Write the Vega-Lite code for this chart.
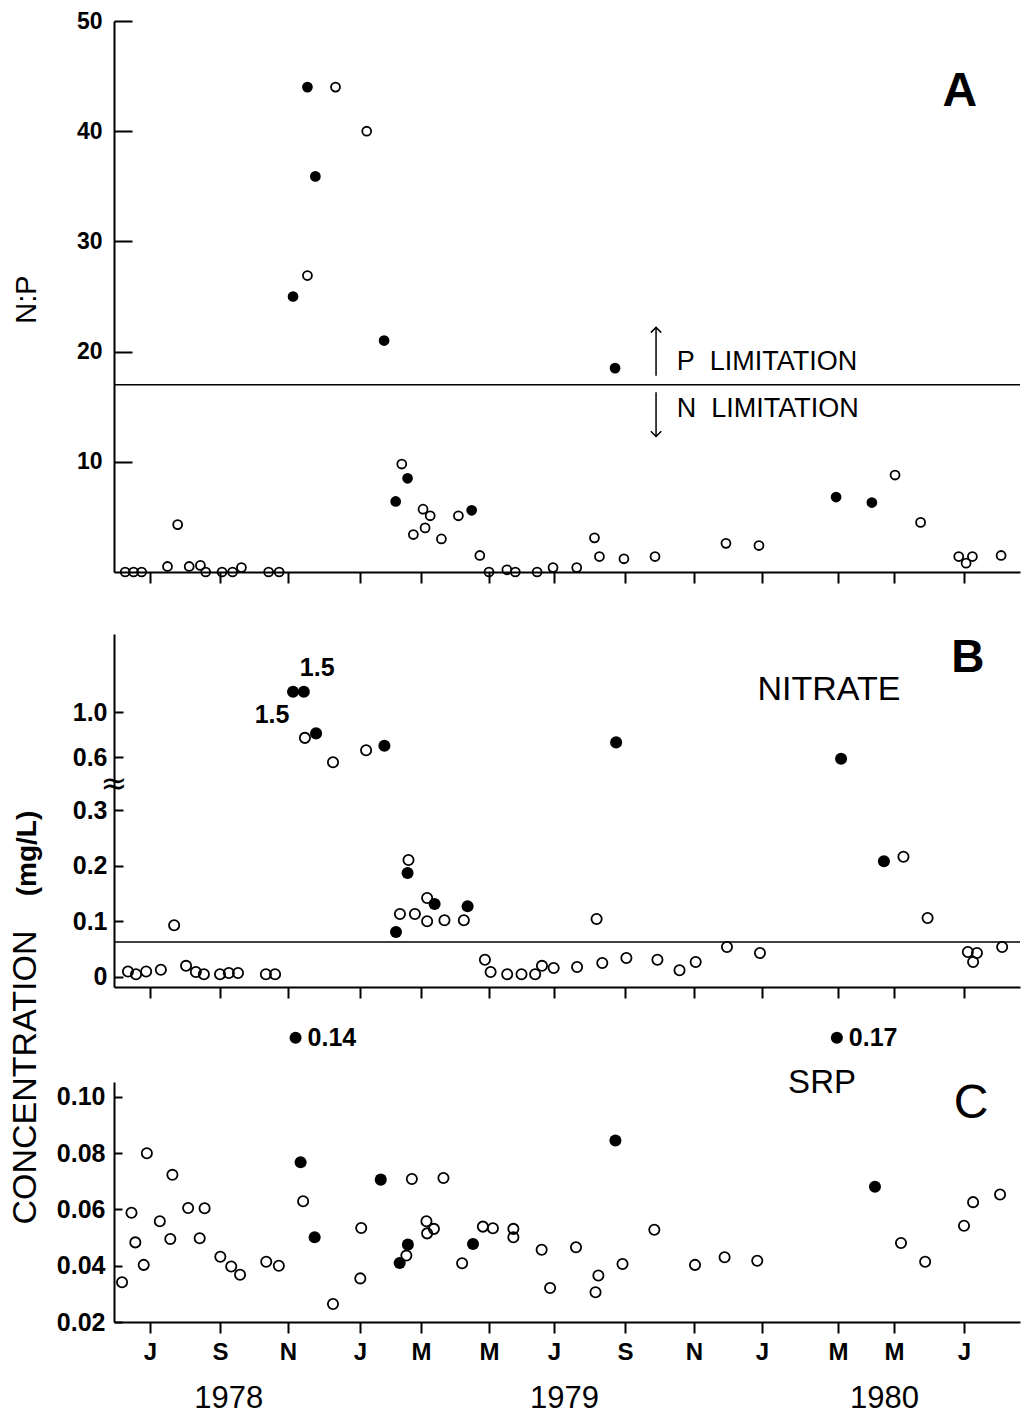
{
  "$schema": "https://vega.github.io/schema/vega-lite/v6.json",
  "background": "white",
  "padding": {"left": 7, "top": 10, "right": 5, "bottom": 2},
  "bounds": "flush",
  "spacing": 62,
  "config": {
    "view": {"stroke": null},
    "axis": {"domainColor": "black", "domainWidth": 2, "tickColor": "black", "tickWidth": 2, "labelColor": "black", "labelFont": "Liberation Sans", "labelFontWeight": "bold", "titleColor": "black", "titleFont": "Liberation Sans", "grid": false, "labelFlush": false, "labelOverlap": false},
    "text": {"font": "Liberation Sans", "color": "black"}
  },
  "datasets": {
    "np": [
      {"m": 5.29, "v": 0, "s": "o"}, {"m": 5.53, "v": 0, "s": "o"}, {"m": 5.76, "v": 0, "s": "o"}, {"m": 6.5, "v": 0.5, "s": "o"},
      {"m": 6.79, "v": 4.3, "s": "o"}, {"m": 7.12, "v": 0.5, "s": "o"}, {"m": 7.44, "v": 0.6, "s": "o"}, {"m": 7.59, "v": 0, "s": "o"},
      {"m": 8.06, "v": 0, "s": "o"}, {"m": 8.37, "v": 0, "s": "o"}, {"m": 8.63, "v": 0.4, "s": "o"}, {"m": 9.43, "v": 0, "s": "o"},
      {"m": 9.74, "v": 0, "s": "o"}, {"m": 10.54, "v": 26.9, "s": "o"}, {"m": 11.32, "v": 44, "s": "o"}, {"m": 12.22, "v": 40, "s": "o"},
      {"m": 13.37, "v": 9.8, "s": "o"}, {"m": 13.75, "v": 3.4, "s": "o"}, {"m": 14.06, "v": 5.7, "s": "o"}, {"m": 14.12, "v": 4.0, "s": "o"},
      {"m": 14.27, "v": 5.1, "s": "o"}, {"m": 14.6, "v": 3.0, "s": "o"}, {"m": 15.1, "v": 5.1, "s": "o"}, {"m": 15.73, "v": 1.5, "s": "o"},
      {"m": 16.0, "v": 0, "s": "o"}, {"m": 16.55, "v": 0.2, "s": "o"}, {"m": 16.81, "v": 0, "s": "o"}, {"m": 17.48, "v": 0, "s": "o"},
      {"m": 17.97, "v": 0.4, "s": "o"}, {"m": 18.64, "v": 0.4, "s": "o"}, {"m": 19.14, "v": 3.1, "s": "o"}, {"m": 19.28, "v": 1.4, "s": "o"},
      {"m": 19.97, "v": 1.2, "s": "o"}, {"m": 20.87, "v": 1.4, "s": "o"}, {"m": 22.94, "v": 2.6, "s": "o"}, {"m": 23.91, "v": 2.4, "s": "o"},
      {"m": 28.03, "v": 8.8, "s": "o"}, {"m": 28.76, "v": 4.5, "s": "o"}, {"m": 29.85, "v": 1.4, "s": "o"}, {"m": 30.06, "v": 0.8, "s": "o"},
      {"m": 30.24, "v": 1.4, "s": "o"}, {"m": 31.06, "v": 1.5, "s": "o"},
      {"m": 10.14, "v": 25, "s": "f"}, {"m": 10.54, "v": 44, "s": "f"}, {"m": 10.76, "v": 35.9, "s": "f"}, {"m": 12.79, "v": 21, "s": "f"},
      {"m": 13.17, "v": 6.4, "s": "f"}, {"m": 13.56, "v": 8.5, "s": "f"}, {"m": 15.49, "v": 5.6, "s": "f"}, {"m": 19.72, "v": 18.5, "s": "f"},
      {"m": 25.95, "v": 6.8, "s": "f"}, {"m": 27.21, "v": 6.3, "s": "f"}
    ],
    "no3": [
      {"m": 5.37, "v": 0.01, "s": "o"}, {"m": 5.6, "v": 0.005, "s": "o"}, {"m": 5.89, "v": 0.01, "s": "o"}, {"m": 6.31, "v": 0.013, "s": "o"},
      {"m": 6.69, "v": 0.093, "s": "o"}, {"m": 7.03, "v": 0.02, "s": "o"}, {"m": 7.31, "v": 0.009, "s": "o"}, {"m": 7.54, "v": 0.005, "s": "o"},
      {"m": 8.0, "v": 0.005, "s": "o"}, {"m": 8.26, "v": 0.007, "s": "o"}, {"m": 8.53, "v": 0.007, "s": "o"}, {"m": 9.35, "v": 0.005, "s": "o"},
      {"m": 9.62, "v": 0.005, "s": "o"}, {"m": 10.47, "v": 0.77, "s": "o"}, {"m": 11.25, "v": 0.57, "s": "o"}, {"m": 12.2, "v": 0.66, "s": "o"},
      {"m": 13.31, "v": 0.113, "s": "o"}, {"m": 13.59, "v": 0.21, "s": "o"}, {"m": 13.8, "v": 0.113, "s": "o"}, {"m": 14.18, "v": 0.142, "s": "o"},
      {"m": 14.18, "v": 0.1, "s": "o"}, {"m": 14.69, "v": 0.102, "s": "o"}, {"m": 15.26, "v": 0.102, "s": "o"}, {"m": 15.88, "v": 0.031, "s": "o"},
      {"m": 16.05, "v": 0.009, "s": "o"}, {"m": 16.56, "v": 0.005, "s": "o"}, {"m": 17.0, "v": 0.005, "s": "o"}, {"m": 17.42, "v": 0.005, "s": "o"},
      {"m": 17.63, "v": 0.02, "s": "o"}, {"m": 17.99, "v": 0.016, "s": "o"}, {"m": 18.65, "v": 0.018, "s": "o"}, {"m": 19.2, "v": 0.104, "s": "o"},
      {"m": 19.36, "v": 0.025, "s": "o"}, {"m": 20.04, "v": 0.034, "s": "o"}, {"m": 20.94, "v": 0.031, "s": "o"}, {"m": 21.58, "v": 0.012, "s": "o"},
      {"m": 22.05, "v": 0.027, "s": "o"}, {"m": 22.97, "v": 0.054, "s": "o"}, {"m": 23.94, "v": 0.043, "s": "o"}, {"m": 28.27, "v": 0.216, "s": "o"},
      {"m": 28.96, "v": 0.106, "s": "o"}, {"m": 30.11, "v": 0.045, "s": "o"}, {"m": 30.26, "v": 0.027, "s": "o"}, {"m": 30.37, "v": 0.043, "s": "o"},
      {"m": 31.09, "v": 0.054, "s": "o"},
      {"m": 10.14, "v": 1.18, "s": "f"}, {"m": 10.44, "v": 1.18, "s": "f"}, {"m": 10.78, "v": 0.81, "s": "f"}, {"m": 12.8, "v": 0.7, "s": "f"},
      {"m": 13.18, "v": 0.081, "s": "f"}, {"m": 13.56, "v": 0.187, "s": "f"}, {"m": 14.4, "v": 0.131, "s": "f"}, {"m": 15.37, "v": 0.127, "s": "f"},
      {"m": 19.75, "v": 0.73, "s": "f"}, {"m": 26.11, "v": 0.59, "s": "f"}, {"m": 27.64, "v": 0.208, "s": "f"}
    ],
    "srp": [
      {"m": 5.2, "v": 0.0341, "s": "o"}, {"m": 5.47, "v": 0.0588, "s": "o"}, {"m": 5.58, "v": 0.0483, "s": "o"}, {"m": 5.82, "v": 0.0403, "s": "o"},
      {"m": 5.91, "v": 0.08, "s": "o"}, {"m": 6.28, "v": 0.0558, "s": "o"}, {"m": 6.58, "v": 0.0495, "s": "o"}, {"m": 6.64, "v": 0.0723, "s": "o"},
      {"m": 7.09, "v": 0.0605, "s": "o"}, {"m": 7.42, "v": 0.0498, "s": "o"}, {"m": 7.56, "v": 0.0604, "s": "o"}, {"m": 8.01, "v": 0.0432, "s": "o"},
      {"m": 8.33, "v": 0.0397, "s": "o"}, {"m": 8.59, "v": 0.0368, "s": "o"}, {"m": 9.36, "v": 0.0414, "s": "o"}, {"m": 9.73, "v": 0.04, "s": "o"},
      {"m": 10.42, "v": 0.0629, "s": "o"}, {"m": 11.25, "v": 0.0264, "s": "o"}, {"m": 12.01, "v": 0.0355, "s": "o"}, {"m": 12.04, "v": 0.0534, "s": "o"},
      {"m": 13.52, "v": 0.0436, "s": "o"}, {"m": 13.7, "v": 0.0708, "s": "o"}, {"m": 14.16, "v": 0.0558, "s": "o"}, {"m": 14.18, "v": 0.0515, "s": "o"},
      {"m": 14.38, "v": 0.0531, "s": "o"}, {"m": 14.66, "v": 0.0712, "s": "o"}, {"m": 15.21, "v": 0.0409, "s": "o"}, {"m": 15.82, "v": 0.0539, "s": "o"},
      {"m": 16.12, "v": 0.0533, "s": "o"}, {"m": 16.75, "v": 0.0531, "s": "o"}, {"m": 16.75, "v": 0.0501, "s": "o"}, {"m": 17.62, "v": 0.0457, "s": "o"},
      {"m": 17.88, "v": 0.0321, "s": "o"}, {"m": 18.62, "v": 0.0466, "s": "o"}, {"m": 19.17, "v": 0.0306, "s": "o"}, {"m": 19.25, "v": 0.0365, "s": "o"},
      {"m": 19.93, "v": 0.0406, "s": "o"}, {"m": 20.85, "v": 0.0528, "s": "o"}, {"m": 22.03, "v": 0.0403, "s": "o"}, {"m": 22.9, "v": 0.043, "s": "o"},
      {"m": 23.86, "v": 0.0418, "s": "o"}, {"m": 28.2, "v": 0.0481, "s": "o"}, {"m": 28.89, "v": 0.0414, "s": "o"}, {"m": 30.0, "v": 0.0542, "s": "o"},
      {"m": 30.26, "v": 0.0626, "s": "o"}, {"m": 31.03, "v": 0.0653, "s": "o"},
      {"m": 10.21, "v": 0.121, "s": "f", "lab": "0.14"}, {"m": 10.35, "v": 0.0768, "s": "f"}, {"m": 10.74, "v": 0.0501, "s": "f"},
      {"m": 12.68, "v": 0.0706, "s": "f"}, {"m": 13.3, "v": 0.041, "s": "f"}, {"m": 13.57, "v": 0.0475, "s": "f"}, {"m": 15.53, "v": 0.0477, "s": "f"},
      {"m": 19.73, "v": 0.0845, "s": "f"}, {"m": 25.97, "v": 0.121, "s": "f", "lab": "0.17"}, {"m": 27.32, "v": 0.0681, "s": "f"}
    ]
  },
  "vconcat": [
    {
      "width": 906,
      "height": 551,
      "layer": [
        {
          "data": {"values": [{"v": 17}]},
          "mark": {"type": "rule", "color": "black", "strokeWidth": 1.5},
          "encoding": {
            "y": {"field": "v", "type": "quantitative", "scale": {"domain": [0, 50], "nice": false, "zero": false}, "axis": {"values": [10, 20, 30, 40, 50], "tickSize": -18, "labelPadding": 30, "labelFontSize": 23, "title": "N:P", "titleFontSize": 29, "titleFontWeight": "normal", "titleX": -79, "titleY": 278, "titleAngle": -90, "titleBaseline": "alphabetic", "titleAlign": "center"}}
          }
        },
        {
          "data": {"name": "np"},
          "transform": [{"filter": "datum.s == 'o'"}],
          "mark": {"type": "point", "shape": "circle", "filled": false, "stroke": "black", "strokeWidth": 1.8, "size": 80, "opacity": 1},
          "encoding": {
            "x": {"field": "m", "type": "quantitative", "scale": {"domain": [4.97, 6, 8, 10, 12, 14, 16, 18, 20, 22, 24, 26, 28, 30, 31.6], "range": [0, 36, 106, 174, 246, 307, 375, 440, 511, 580, 648, 724, 780, 850, 906], "nice": false, "zero": false}, "axis": {"values": [6, 8, 10, 12, 14, 16, 18, 20, 22, 24, 26, 28, 30], "labels": false, "tickSize": 11, "title": null}},
            "y": {"field": "v", "type": "quantitative", "scale": {"domain": [0, 50], "nice": false, "zero": false}, "axis": {"values": [10, 20, 30, 40, 50], "tickSize": -18, "labelPadding": 30, "labelFontSize": 23, "title": "N:P", "titleFontSize": 29, "titleFontWeight": "normal", "titleX": -79, "titleY": 278, "titleAngle": -90, "titleBaseline": "alphabetic", "titleAlign": "center"}}
          }
        },
        {
          "data": {"name": "np"},
          "transform": [{"filter": "datum.s == 'f'"}],
          "mark": {"type": "circle", "color": "black", "size": 115, "opacity": 1},
          "encoding": {
            "x": {"field": "m", "type": "quantitative", "scale": {"domain": [4.97, 6, 8, 10, 12, 14, 16, 18, 20, 22, 24, 26, 28, 30, 31.6], "range": [0, 36, 106, 174, 246, 307, 375, 440, 511, 580, 648, 724, 780, 850, 906], "nice": false, "zero": false}, "axis": {"values": [6, 8, 10, 12, 14, 16, 18, 20, 22, 24, 26, 28, 30], "labels": false, "tickSize": 11, "title": null}},
            "y": {"field": "v", "type": "quantitative", "scale": {"domain": [0, 50], "nice": false, "zero": false}, "axis": {"values": [10, 20, 30, 40, 50], "tickSize": -18, "labelPadding": 30, "labelFontSize": 23, "title": "N:P", "titleFontSize": 29, "titleFontWeight": "normal", "titleX": -79, "titleY": 278, "titleAngle": -90, "titleBaseline": "alphabetic", "titleAlign": "center"}}
          }
        },
        {
          "data": {"values": [{"m": 20.9, "v": 17.8, "v2": 22.2}, {"m": 20.9, "v": 16.3, "v2": 12.3}]},
          "mark": {"type": "rule", "color": "black", "strokeWidth": 1.5},
          "encoding": {
            "x": {"field": "m", "type": "quantitative", "scale": {"domain": [4.97, 6, 8, 10, 12, 14, 16, 18, 20, 22, 24, 26, 28, 30, 31.6], "range": [0, 36, 106, 174, 246, 307, 375, 440, 511, 580, 648, 724, 780, 850, 906], "nice": false, "zero": false}, "axis": {"values": [6, 8, 10, 12, 14, 16, 18, 20, 22, 24, 26, 28, 30], "labels": false, "tickSize": 11, "title": null}},
            "y": {"field": "v", "type": "quantitative", "scale": {"domain": [0, 50], "nice": false, "zero": false}, "axis": {"values": [10, 20, 30, 40, 50], "tickSize": -18, "labelPadding": 30, "labelFontSize": 23, "title": "N:P", "titleFontSize": 29, "titleFontWeight": "normal", "titleX": -79, "titleY": 278, "titleAngle": -90, "titleBaseline": "alphabetic", "titleAlign": "center"}},
            "y2": {"field": "v2"}
          }
        },
        {
          "data": {"values": [{"m": 20.9, "v": 22.2}]},
          "mark": {"type": "point", "shape": "M-1,1L0,0L1,1", "filled": false, "stroke": "black", "strokeWidth": 1.5, "size": 110, "opacity": 1},
          "encoding": {
            "x": {"field": "m", "type": "quantitative", "scale": {"domain": [4.97, 6, 8, 10, 12, 14, 16, 18, 20, 22, 24, 26, 28, 30, 31.6], "range": [0, 36, 106, 174, 246, 307, 375, 440, 511, 580, 648, 724, 780, 850, 906], "nice": false, "zero": false}, "axis": {"values": [6, 8, 10, 12, 14, 16, 18, 20, 22, 24, 26, 28, 30], "labels": false, "tickSize": 11, "title": null}},
            "y": {"field": "v", "type": "quantitative", "scale": {"domain": [0, 50], "nice": false, "zero": false}, "axis": {"values": [10, 20, 30, 40, 50], "tickSize": -18, "labelPadding": 30, "labelFontSize": 23, "title": "N:P", "titleFontSize": 29, "titleFontWeight": "normal", "titleX": -79, "titleY": 278, "titleAngle": -90, "titleBaseline": "alphabetic", "titleAlign": "center"}}
          }
        },
        {
          "data": {"values": [{"m": 20.9, "v": 12.3}]},
          "mark": {"type": "point", "shape": "M-1,-1L0,0L1,-1", "filled": false, "stroke": "black", "strokeWidth": 1.5, "size": 110, "opacity": 1},
          "encoding": {
            "x": {"field": "m", "type": "quantitative", "scale": {"domain": [4.97, 6, 8, 10, 12, 14, 16, 18, 20, 22, 24, 26, 28, 30, 31.6], "range": [0, 36, 106, 174, 246, 307, 375, 440, 511, 580, 648, 724, 780, 850, 906], "nice": false, "zero": false}, "axis": {"values": [6, 8, 10, 12, 14, 16, 18, 20, 22, 24, 26, 28, 30], "labels": false, "tickSize": 11, "title": null}},
            "y": {"field": "v", "type": "quantitative", "scale": {"domain": [0, 50], "nice": false, "zero": false}, "axis": {"values": [10, 20, 30, 40, 50], "tickSize": -18, "labelPadding": 30, "labelFontSize": 23, "title": "N:P", "titleFontSize": 29, "titleFontWeight": "normal", "titleX": -79, "titleY": 278, "titleAngle": -90, "titleBaseline": "alphabetic", "titleAlign": "center"}}
          }
        },
        {
          "data": {"values": [{"m": 21.5, "v": 19.1, "t": "P\u00a0\u00a0LIMITATION"}, {"m": 21.5, "v": 14.8, "t": "N\u00a0\u00a0LIMITATION"}]},
          "mark": {"type": "text", "align": "left", "baseline": "middle", "fontSize": 27, "font": "Liberation Sans", "color": "black"},
          "encoding": {
            "x": {"field": "m", "type": "quantitative", "scale": {"domain": [4.97, 6, 8, 10, 12, 14, 16, 18, 20, 22, 24, 26, 28, 30, 31.6], "range": [0, 36, 106, 174, 246, 307, 375, 440, 511, 580, 648, 724, 780, 850, 906], "nice": false, "zero": false}, "axis": {"values": [6, 8, 10, 12, 14, 16, 18, 20, 22, 24, 26, 28, 30], "labels": false, "tickSize": 11, "title": null}},
            "y": {"field": "v", "type": "quantitative", "scale": {"domain": [0, 50], "nice": false, "zero": false}, "axis": {"values": [10, 20, 30, 40, 50], "tickSize": -18, "labelPadding": 30, "labelFontSize": 23, "title": "N:P", "titleFontSize": 29, "titleFontWeight": "normal", "titleX": -79, "titleY": 278, "titleAngle": -90, "titleBaseline": "alphabetic", "titleAlign": "center"}},
            "text": {"field": "t"}
          }
        },
        {
          "data": {"values": [{"m": 29.88, "v": 43.6, "t": "A"}]},
          "mark": {"type": "text", "align": "center", "baseline": "middle", "fontSize": 48, "fontWeight": "bold", "font": "Liberation Sans", "color": "black"},
          "encoding": {
            "x": {"field": "m", "type": "quantitative", "scale": {"domain": [4.97, 6, 8, 10, 12, 14, 16, 18, 20, 22, 24, 26, 28, 30, 31.6], "range": [0, 36, 106, 174, 246, 307, 375, 440, 511, 580, 648, 724, 780, 850, 906], "nice": false, "zero": false}, "axis": {"values": [6, 8, 10, 12, 14, 16, 18, 20, 22, 24, 26, 28, 30], "labels": false, "tickSize": 11, "title": null}},
            "y": {"field": "v", "type": "quantitative", "scale": {"domain": [0, 50], "nice": false, "zero": false}, "axis": {"values": [10, 20, 30, 40, 50], "tickSize": -18, "labelPadding": 30, "labelFontSize": 23, "title": "N:P", "titleFontSize": 29, "titleFontWeight": "normal", "titleX": -79, "titleY": 278, "titleAngle": -90, "titleBaseline": "alphabetic", "titleAlign": "center"}},
            "text": {"field": "t"}
          }
        }
      ]
    },
    {
      "width": 906,
      "height": 353,
      "layer": [
        {
          "data": {"values": [{"v": 0.063}]},
          "mark": {"type": "rule", "color": "black", "strokeWidth": 1.5},
          "encoding": {
            "y": {"field": "v", "type": "quantitative", "scale": {"domain": [-0.018, 0.3, 0.6, 1.0, 1.693], "range": [353, 176, 123, 78, 0], "nice": false, "zero": false}, "axis": {"values": [0, 0.1, 0.2, 0.3, 0.6, 1.0], "labelExpr": "datum.value == 0 ? '0' : format(datum.value, '.1f')", "tickSize": -9, "labelPadding": 16, "labelFontSize": 25, "title": "(mg/L)", "titleFontSize": 28, "titleFontWeight": "bold", "titleX": -79, "titleY": 219, "titleAngle": -90, "titleBaseline": "alphabetic", "titleAlign": "center"}}
          }
        },
        {
          "data": {"name": "no3"},
          "transform": [{"filter": "datum.s == 'o'"}],
          "mark": {"type": "point", "shape": "circle", "filled": false, "stroke": "black", "strokeWidth": 1.8, "size": 105, "opacity": 1},
          "encoding": {
            "x": {"field": "m", "type": "quantitative", "scale": {"domain": [4.97, 6, 8, 10, 12, 14, 16, 18, 20, 22, 24, 26, 28, 30, 31.6], "range": [0, 36, 106, 174, 246, 307, 375, 440, 511, 580, 648, 724, 780, 850, 906], "nice": false, "zero": false}, "axis": {"values": [6, 8, 10, 12, 14, 16, 18, 20, 22, 24, 26, 28, 30], "labels": false, "tickSize": 11, "title": null}},
            "y": {"field": "v", "type": "quantitative", "scale": {"domain": [-0.018, 0.3, 0.6, 1.0, 1.693], "range": [353, 176, 123, 78, 0], "nice": false, "zero": false}, "axis": {"values": [0, 0.1, 0.2, 0.3, 0.6, 1.0], "labelExpr": "datum.value == 0 ? '0' : format(datum.value, '.1f')", "tickSize": -9, "labelPadding": 16, "labelFontSize": 25, "title": "(mg/L)", "titleFontSize": 28, "titleFontWeight": "bold", "titleX": -79, "titleY": 219, "titleAngle": -90, "titleBaseline": "alphabetic", "titleAlign": "center"}}
          }
        },
        {
          "data": {"name": "no3"},
          "transform": [{"filter": "datum.s == 'f'"}],
          "mark": {"type": "circle", "color": "black", "size": 145, "opacity": 1},
          "encoding": {
            "x": {"field": "m", "type": "quantitative", "scale": {"domain": [4.97, 6, 8, 10, 12, 14, 16, 18, 20, 22, 24, 26, 28, 30, 31.6], "range": [0, 36, 106, 174, 246, 307, 375, 440, 511, 580, 648, 724, 780, 850, 906], "nice": false, "zero": false}, "axis": {"values": [6, 8, 10, 12, 14, 16, 18, 20, 22, 24, 26, 28, 30], "labels": false, "tickSize": 11, "title": null}},
            "y": {"field": "v", "type": "quantitative", "scale": {"domain": [-0.018, 0.3, 0.6, 1.0, 1.693], "range": [353, 176, 123, 78, 0], "nice": false, "zero": false}, "axis": {"values": [0, 0.1, 0.2, 0.3, 0.6, 1.0], "labelExpr": "datum.value == 0 ? '0' : format(datum.value, '.1f')", "tickSize": -9, "labelPadding": 16, "labelFontSize": 25, "title": "(mg/L)", "titleFontSize": 28, "titleFontWeight": "bold", "titleX": -79, "titleY": 219, "titleAngle": -90, "titleBaseline": "alphabetic", "titleAlign": "center"}}
          }
        },
        {
          "data": {"values": [{"m": 9.53, "v": 0.973, "t": "1.5"}, {"m": 10.81, "v": 1.39, "t": "1.5"}]},
          "mark": {"type": "text", "align": "center", "baseline": "middle", "fontSize": 25, "fontWeight": "bold", "font": "Liberation Sans", "color": "black"},
          "encoding": {
            "x": {"field": "m", "type": "quantitative", "scale": {"domain": [4.97, 6, 8, 10, 12, 14, 16, 18, 20, 22, 24, 26, 28, 30, 31.6], "range": [0, 36, 106, 174, 246, 307, 375, 440, 511, 580, 648, 724, 780, 850, 906], "nice": false, "zero": false}, "axis": {"values": [6, 8, 10, 12, 14, 16, 18, 20, 22, 24, 26, 28, 30], "labels": false, "tickSize": 11, "title": null}},
            "y": {"field": "v", "type": "quantitative", "scale": {"domain": [-0.018, 0.3, 0.6, 1.0, 1.693], "range": [353, 176, 123, 78, 0], "nice": false, "zero": false}, "axis": {"values": [0, 0.1, 0.2, 0.3, 0.6, 1.0], "labelExpr": "datum.value == 0 ? '0' : format(datum.value, '.1f')", "tickSize": -9, "labelPadding": 16, "labelFontSize": 25, "title": "(mg/L)", "titleFontSize": 28, "titleFontWeight": "bold", "titleX": -79, "titleY": 219, "titleAngle": -90, "titleBaseline": "alphabetic", "titleAlign": "center"}},
            "text": {"field": "t"}
          }
        },
        {
          "data": {"values": [{"m": 25.76, "v": 1.196, "t": "NITRATE"}]},
          "mark": {"type": "text", "align": "center", "baseline": "middle", "fontSize": 34, "font": "Liberation Sans", "color": "black"},
          "encoding": {
            "x": {"field": "m", "type": "quantitative", "scale": {"domain": [4.97, 6, 8, 10, 12, 14, 16, 18, 20, 22, 24, 26, 28, 30, 31.6], "range": [0, 36, 106, 174, 246, 307, 375, 440, 511, 580, 648, 724, 780, 850, 906], "nice": false, "zero": false}, "axis": {"values": [6, 8, 10, 12, 14, 16, 18, 20, 22, 24, 26, 28, 30], "labels": false, "tickSize": 11, "title": null}},
            "y": {"field": "v", "type": "quantitative", "scale": {"domain": [-0.018, 0.3, 0.6, 1.0, 1.693], "range": [353, 176, 123, 78, 0], "nice": false, "zero": false}, "axis": {"values": [0, 0.1, 0.2, 0.3, 0.6, 1.0], "labelExpr": "datum.value == 0 ? '0' : format(datum.value, '.1f')", "tickSize": -9, "labelPadding": 16, "labelFontSize": 25, "title": "(mg/L)", "titleFontSize": 28, "titleFontWeight": "bold", "titleX": -79, "titleY": 219, "titleAngle": -90, "titleBaseline": "alphabetic", "titleAlign": "center"}},
            "text": {"field": "t"}
          }
        },
        {
          "data": {"values": [{"m": 30.11, "v": 1.48, "t": "B"}]},
          "mark": {"type": "text", "align": "center", "baseline": "middle", "fontSize": 46, "fontWeight": "bold", "font": "Liberation Sans", "color": "black"},
          "encoding": {
            "x": {"field": "m", "type": "quantitative", "scale": {"domain": [4.97, 6, 8, 10, 12, 14, 16, 18, 20, 22, 24, 26, 28, 30, 31.6], "range": [0, 36, 106, 174, 246, 307, 375, 440, 511, 580, 648, 724, 780, 850, 906], "nice": false, "zero": false}, "axis": {"values": [6, 8, 10, 12, 14, 16, 18, 20, 22, 24, 26, 28, 30], "labels": false, "tickSize": 11, "title": null}},
            "y": {"field": "v", "type": "quantitative", "scale": {"domain": [-0.018, 0.3, 0.6, 1.0, 1.693], "range": [353, 176, 123, 78, 0], "nice": false, "zero": false}, "axis": {"values": [0, 0.1, 0.2, 0.3, 0.6, 1.0], "labelExpr": "datum.value == 0 ? '0' : format(datum.value, '.1f')", "tickSize": -9, "labelPadding": 16, "labelFontSize": 25, "title": "(mg/L)", "titleFontSize": 28, "titleFontWeight": "bold", "titleX": -79, "titleY": 219, "titleAngle": -90, "titleBaseline": "alphabetic", "titleAlign": "center"}},
            "text": {"field": "t"}
          }
        },
        {
          "data": {"values": [{"m": 4.97, "v": 0.447, "t": "≈"}]},
          "mark": {"type": "text", "align": "center", "baseline": "middle", "fontSize": 32, "font": "DejaVu Sans", "color": "black"},
          "encoding": {
            "x": {"field": "m", "type": "quantitative", "scale": {"domain": [4.97, 6, 8, 10, 12, 14, 16, 18, 20, 22, 24, 26, 28, 30, 31.6], "range": [0, 36, 106, 174, 246, 307, 375, 440, 511, 580, 648, 724, 780, 850, 906], "nice": false, "zero": false}, "axis": {"values": [6, 8, 10, 12, 14, 16, 18, 20, 22, 24, 26, 28, 30], "labels": false, "tickSize": 11, "title": null}},
            "y": {"field": "v", "type": "quantitative", "scale": {"domain": [-0.018, 0.3, 0.6, 1.0, 1.693], "range": [353, 176, 123, 78, 0], "nice": false, "zero": false}, "axis": {"values": [0, 0.1, 0.2, 0.3, 0.6, 1.0], "labelExpr": "datum.value == 0 ? '0' : format(datum.value, '.1f')", "tickSize": -9, "labelPadding": 16, "labelFontSize": 25, "title": "(mg/L)", "titleFontSize": 28, "titleFontWeight": "bold", "titleX": -79, "titleY": 219, "titleAngle": -90, "titleBaseline": "alphabetic", "titleAlign": "center"}},
            "text": {"field": "t"}
          }
        }
      ]
    },
    {
      "width": 906,
      "height": 273,
      "resolve": {"axis": {"x": "independent"}},
      "layer": [
        {
          "data": {"name": "srp"},
          "transform": [{"filter": "datum.s == 'o'"}],
          "mark": {"type": "point", "shape": "circle", "filled": false, "stroke": "black", "strokeWidth": 1.8, "size": 105, "opacity": 1},
          "encoding": {
            "x": {"field": "m", "type": "quantitative", "scale": {"domain": [4.97, 6, 8, 10, 12, 14, 16, 18, 20, 22, 24, 26, 28, 30, 31.6], "range": [0, 36, 106, 174, 246, 307, 375, 440, 511, 580, 648, 724, 780, 850, 906], "nice": false, "zero": false}, "axis": {"orient": "bottom", "values": [6, 8, 10, 12, 14, 16, 18, 20, 22, 24, 26, 28, 30], "labelExpr": "['J','S','N','J','M','M','J','S','N','J','M','M','J'][round((datum.value - 6) / 2)]", "tickSize": 11, "labelPadding": 7, "labelFontSize": 24, "labelFontWeight": "bold", "title": null}},
            "y": {"field": "v", "type": "quantitative", "scale": {"domain": [0.02, 0.1053], "range": [273, 33], "nice": false, "zero": false}, "axis": {"values": [0.02, 0.04, 0.06, 0.08, 0.1], "format": ".2f", "tickSize": -8, "labelPadding": 17, "labelFontSize": 25, "title": "CONCENTRATION", "titleFontSize": 34, "titleFontWeight": "normal", "titleX": -79, "titleY": 28, "titleAngle": -90, "titleBaseline": "alphabetic", "titleAlign": "center"}}
          }
        },
        {
          "data": {"name": "srp"},
          "transform": [{"filter": "datum.s == 'f'"}],
          "mark": {"type": "circle", "color": "black", "size": 145, "opacity": 1},
          "encoding": {
            "x": {"field": "m", "type": "quantitative", "scale": {"domain": [4.97, 6, 8, 10, 12, 14, 16, 18, 20, 22, 24, 26, 28, 30, 31.6], "range": [0, 36, 106, 174, 246, 307, 375, 440, 511, 580, 648, 724, 780, 850, 906], "nice": false, "zero": false}, "axis": null},
            "y": {"field": "v", "type": "quantitative", "scale": {"domain": [0.02, 0.1053], "range": [273, 33], "nice": false, "zero": false}, "axis": {"values": [0.02, 0.04, 0.06, 0.08, 0.1], "format": ".2f", "tickSize": -8, "labelPadding": 17, "labelFontSize": 25, "title": "CONCENTRATION", "titleFontSize": 34, "titleFontWeight": "normal", "titleX": -79, "titleY": 28, "titleAngle": -90, "titleBaseline": "alphabetic", "titleAlign": "center"}}
          }
        },
        {
          "data": {"name": "srp"},
          "transform": [{"filter": "isValid(datum.lab)"}],
          "mark": {"type": "text", "align": "left", "baseline": "middle", "dx": 12, "fontSize": 25, "fontWeight": "bold", "font": "Liberation Sans", "color": "black"},
          "encoding": {
            "x": {"field": "m", "type": "quantitative", "scale": {"domain": [4.97, 6, 8, 10, 12, 14, 16, 18, 20, 22, 24, 26, 28, 30, 31.6], "range": [0, 36, 106, 174, 246, 307, 375, 440, 511, 580, 648, 724, 780, 850, 906], "nice": false, "zero": false}, "axis": null},
            "y": {"field": "v", "type": "quantitative", "scale": {"domain": [0.02, 0.1053], "range": [273, 33], "nice": false, "zero": false}, "axis": {"values": [0.02, 0.04, 0.06, 0.08, 0.1], "format": ".2f", "tickSize": -8, "labelPadding": 17, "labelFontSize": 25, "title": "CONCENTRATION", "titleFontSize": 34, "titleFontWeight": "normal", "titleX": -79, "titleY": 28, "titleAngle": -90, "titleBaseline": "alphabetic", "titleAlign": "center"}},
            "text": {"field": "lab"}
          }
        },
        {
          "data": {"values": [{"m": 25.58, "v": 0.105, "t": "SRP", "z": 33}, {"m": 30.2, "v": 0.0975, "t": "C", "z": 48}]},
          "mark": {"type": "text", "align": "center", "baseline": "middle", "font": "Liberation Sans", "color": "black"},
          "encoding": {
            "x": {"field": "m", "type": "quantitative", "scale": {"domain": [4.97, 6, 8, 10, 12, 14, 16, 18, 20, 22, 24, 26, 28, 30, 31.6], "range": [0, 36, 106, 174, 246, 307, 375, 440, 511, 580, 648, 724, 780, 850, 906], "nice": false, "zero": false}, "axis": null},
            "y": {"field": "v", "type": "quantitative", "scale": {"domain": [0.02, 0.1053], "range": [273, 33], "nice": false, "zero": false}, "axis": {"values": [0.02, 0.04, 0.06, 0.08, 0.1], "format": ".2f", "tickSize": -8, "labelPadding": 17, "labelFontSize": 25, "title": "CONCENTRATION", "titleFontSize": 34, "titleFontWeight": "normal", "titleX": -79, "titleY": 28, "titleAngle": -90, "titleBaseline": "alphabetic", "titleAlign": "center"}},
            "text": {"field": "t"},
            "size": {"field": "z", "type": "quantitative", "scale": null}
          }
        },
        {
          "data": {"values": [{"m": 8.24, "v": 0.05}, {"m": 18.28, "v": 0.05}, {"m": 27.64, "v": 0.05}]},
          "mark": {"type": "point", "opacity": 0},
          "encoding": {
            "x": {"field": "m", "type": "quantitative", "scale": {"domain": [4.97, 6, 8, 10, 12, 14, 16, 18, 20, 22, 24, 26, 28, 30, 31.6], "range": [0, 36, 106, 174, 246, 307, 375, 440, 511, 580, 648, 724, 780, 850, 906], "nice": false, "zero": false}, "axis": {"orient": "bottom", "values": [8.24, 18.28, 27.64], "labelExpr": "datum.value < 12 ? '1978' : (datum.value < 24 ? '1979' : '1980')", "ticks": false, "domain": false, "labelPadding": 61, "labelFontSize": 31, "labelFontWeight": "normal", "title": null}},
            "y": {"field": "v", "type": "quantitative", "scale": {"domain": [0.02, 0.1053], "range": [273, 33], "nice": false, "zero": false}, "axis": {"values": [0.02, 0.04, 0.06, 0.08, 0.1], "format": ".2f", "tickSize": -8, "labelPadding": 17, "labelFontSize": 25, "title": "CONCENTRATION", "titleFontSize": 34, "titleFontWeight": "normal", "titleX": -79, "titleY": 28, "titleAngle": -90, "titleBaseline": "alphabetic", "titleAlign": "center"}}
          }
        }
      ]
    }
  ]
}
